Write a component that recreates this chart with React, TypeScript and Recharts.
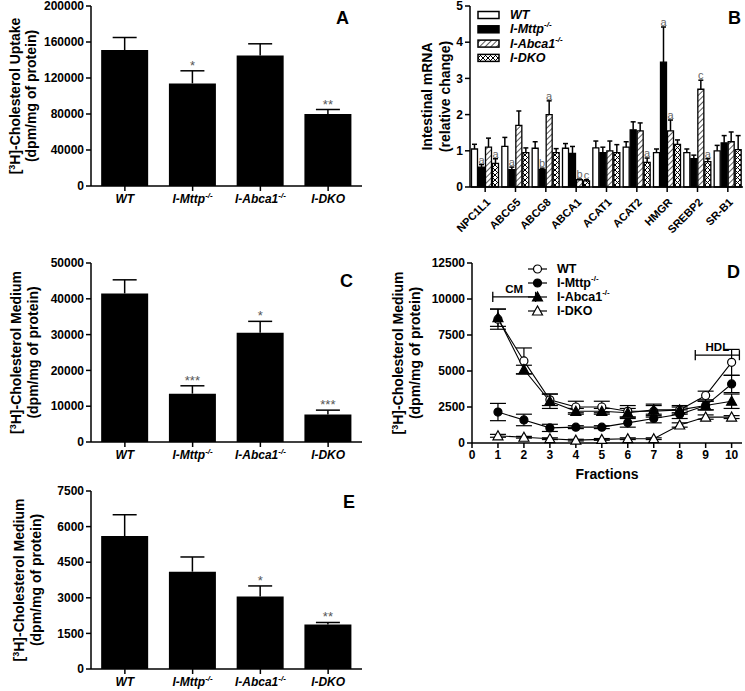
import React from "react";
import {
  BarChart,
  Bar,
  LineChart,
  Line,
  XAxis,
  YAxis,
  LabelList,
  ErrorBar,
  ReferenceLine,
  Legend,
} from "recharts";

const FONT = '"Liberation Sans", Arial, Helvetica, sans-serif';

// genotype groups (panels A, C, E and legends of B, D)
const groups = ["WT", "I-Mttp", "I-Abca1", "I-DKO"];
const groupSup = ["", "-/-", "-/-", ""];

// A: [3H]-cholesterol uptake
const uptakeMean = [151000, 114000, 145000, 80000];
const uptakeErr = [14000, 14000, 13000, 5000];
const uptakeSig = ["", "*", "", "**"];
const uptakeTicks = [0, 40000, 80000, 120000, 160000, 200000];

// C: [3H]-cholesterol in medium
const mediumMean = [41500, 13500, 30500, 7700];
const mediumErr = [3800, 2200, 3200, 1200];
const mediumSig = ["", "***", "*", "***"];
const mediumTicks = [0, 10000, 20000, 30000, 40000, 50000];

// E: [3H]-cholesterol in medium (second experiment)
const mediumEMean = [5600, 4100, 3050, 1880];
const mediumEErr = [900, 620, 450, 80];
const mediumESig = ["", "", "*", "**"];
const mediumETicks = [0, 1500, 3000, 4500, 6000, 7500];

// B: intestinal mRNA
const genes = ["NPC1L1", "ABCG5", "ABCG8", "ABCA1", "ACAT1", "ACAT2", "HMGR", "SREBP2", "SR-B1"];
const mrnaWT = [1.05, 1.12, 1.07, 1.07, 1.08, 1.1, 0.95, 0.95, 1.0];
const mrnaWTErr = [0.13, 0.25, 0.18, 0.13, 0.19, 0.15, 0.1, 0.1, 0.15];
const mrnaMttp = [0.55, 0.48, 0.48, 0.93, 0.95, 1.58, 3.45, 0.78, 1.22];
const mrnaMttpErr = [0.07, 0.07, 0.04, 0.19, 0.15, 0.22, 0.97, 0.1, 0.2];
const mrnaMttpSig = ["a", "a", "b", "", "", "", "a", "", ""];
const mrnaAbca1 = [1.1, 1.7, 2.0, 0.2, 1.0, 1.55, 1.55, 2.7, 1.25];
const mrnaAbca1Err = [0.25, 0.4, 0.38, 0.02, 0.27, 0.22, 0.3, 0.25, 0.27];
const mrnaAbca1Sig = ["", "", "a", "b", "", "", "a", "c", ""];
const mrnaDko = [0.65, 0.95, 0.95, 0.17, 0.95, 0.68, 1.18, 0.7, 1.03];
const mrnaDkoErr = [0.13, 0.13, 0.11, 0.03, 0.22, 0.12, 0.12, 0.08, 0.39];
const mrnaDkoSig = ["a", "", "", "c", "", "a", "", "a", ""];
const mrnaTicks = [0, 1, 2, 3, 4, 5];

// D: lipoprotein fractions
const fractions = [1, 2, 3, 4, 5, 6, 7, 8, 9, 10];
const fracWT = [8600, 5700, 3000, 2500, 2500, 2200, 2200, 2300, 3300, 5600];
const fracWTErr = [700, 900, 400, 400, 400, 400, 400, 300, 300, 900];
const fracMttp = [2150, 1600, 1050, 1100, 1100, 1400, 1700, 2000, 2600, 4100];
const fracMttpErr = [600, 400, 250, 100, 100, 300, 300, 300, 300, 600];
const fracAbca1 = [8700, 5100, 2900, 2200, 2200, 2100, 2300, 2300, 2600, 2900];
const fracAbca1Err = [600, 300, 500, 200, 200, 300, 400, 200, 300, 500];
const fracDko = [500, 400, 300, 200, 250, 300, 300, 1250, 1800, 1800];
const fracDkoErr = [100, 60, 60, 60, 60, 60, 60, 150, 150, 100];
const fracTicks = [0, 1, 2, 3, 4, 5, 6, 7, 8, 9, 10];
const fracYTicks = [0, 2500, 5000, 7500, 10000, 12500];
const cmRange = [0.8, 2.45];
const cmLevel = 10150;
const hdlRange = [8.6, 10.3];
const hdlLevel = 6100;
const bracketEnd = 350;

const axisLine = { stroke: "#000", strokeWidth: 1.5 };
const tickFont = { fontSize: 12, fontWeight: "bold", fill: "#000", fontFamily: FONT };

const tritium = (rest: string) => (
  <>
    [<tspan dy={-5} fontSize={9}>3</tspan>
    <tspan dy={5}>{"H]" + rest}</tspan>
  </>
);

const yTitle =
  (line1: React.ReactNode, line2: string, x1: number, x2: number) => (props: any) => {
    const vb = props.viewBox || {};
    const cy = (vb.y ?? 0) + (vb.height ?? 0) / 2;
    const common = {
      textAnchor: "middle" as const,
      fontFamily: FONT,
      fontWeight: "bold",
      fontSize: 14,
      fill: "#000",
    };
    return (
      <g>
        <text x={x1} y={cy} dy="0.35em" transform={`rotate(-90 ${x1} ${cy})`} {...common}>
          {line1}
        </text>
        <text x={x2} y={cy} dy="0.35em" transform={`rotate(-90 ${x2} ${cy})`} {...common}>
          {line2}
        </text>
      </g>
    );
  };

const whisker = (cap: number) => (props: any) => {
  const { x, y, width, height } = props;
  if (!height || isNaN(y)) return <g />;
  const cx = x + width / 2;
  return (
    <g>
      <line x1={cx} x2={cx} y1={y} y2={y + height} stroke="#000" strokeWidth={1.5} />
      <line x1={cx - cap / 2} x2={cx + cap / 2} y1={y} y2={y} stroke="#000" strokeWidth={1.5} />
    </g>
  );
};

const GroupTick = (props: any) => {
  const { x, y, payload } = props;
  const i = groups.indexOf(payload.value);
  return (
    <text
      x={x}
      y={y + 10}
      textAnchor="middle"
      fontFamily={FONT}
      fontWeight="bold"
      fontStyle="italic"
      fontSize={12}
      fill="#000"
    >
      {payload.value}
      {groupSup[i] ? (
        <tspan dy={-5} fontSize={8}>
          {groupSup[i]}
        </tspan>
      ) : null}
    </text>
  );
};

const GeneTick = (props: any) => {
  const { x, y, payload } = props;
  const tx = x + 3;
  const ty = y + 6;
  return (
    <text
      x={tx}
      y={ty}
      transform={`rotate(-45 ${tx} ${ty})`}
      textAnchor="end"
      dominantBaseline="central"
      fontFamily={FONT}
      fontWeight="bold"
      fontSize={11}
      fill="#000"
    >
      {payload.value}
    </text>
  );
};

const letterStyle = { fontFamily: FONT, fontWeight: "bold", fontSize: 18, fill: "#000" };

type GroupPanelProps = {
  top: number;
  height: number;
  marginTop: number;
  xAxisHeight: number;
  ticks: number[];
  mean: number[];
  err: number[];
  sig: string[];
  title: React.ReactNode;
  subtitle: string;
  lx1: number;
  lx2: number;
  letter: string;
  letterX: number;
  letterY: number;
};

function GroupPanel(p: GroupPanelProps) {
  const rows = groups.map((g, i) => ({ g, mean: p.mean[i], err: p.err[i], sig: p.sig[i] }));
  const max = p.ticks[p.ticks.length - 1];
  return (
    <div style={{ position: "absolute", left: 0, top: p.top }}>
      <BarChart
        width={370}
        height={p.height}
        data={rows}
        margin={{ top: p.marginTop, right: 8, left: 0, bottom: 0 }}
        barCategoryGap="15%"
      >
        <XAxis
          dataKey="g"
          height={p.xAxisHeight}
          tick={(t: any) => <GroupTick {...t} />}
          tickSize={5}
          tickLine={axisLine}
          axisLine={axisLine}
          interval={0}
        />
        <XAxis xAxisId="top" orientation="top" height={0} tick={false} tickLine={false} axisLine={axisLine} />
        <YAxis
          width={91}
          domain={[0, max]}
          ticks={p.ticks}
          interval={0}
          tickSize={5}
          tick={tickFont}
          tickLine={axisLine}
          axisLine={axisLine}
          label={{ content: yTitle(p.title, p.subtitle, p.lx1, p.lx2) }}
        />
        <YAxis yAxisId="right" orientation="right" width={0} tick={false} tickLine={false} axisLine={axisLine} />
        <Bar dataKey="mean" stackId="s" fill="#000" isAnimationActive={false} />
        <Bar dataKey="err" stackId="s" shape={whisker(24)} isAnimationActive={false}>
          <LabelList
            dataKey="sig"
            position="top"
            offset={1}
            fill="#555"
            fontSize={13}
            fontFamily={FONT}
          />
        </Bar>
        <text x={p.letterX} y={p.letterY} textAnchor="end" {...letterStyle}>
          {p.letter}
        </text>
      </BarChart>
    </div>
  );
}

const mrnaFills = ["#fff", "#000", "url(#diagHatch)", "url(#crossHatch)"];

const HatchDefs = ({ suffix }: { suffix: string }) => (
  <defs>
    <pattern
      id={"diagHatch" + suffix}
      patternUnits="userSpaceOnUse"
      width={4}
      height={4}
      patternTransform="rotate(45)"
    >
      <rect width={4} height={4} fill="#fff" />
      <line x1={0} y1={0} x2={0} y2={4} stroke="#000" strokeWidth={1.3} />
    </pattern>
    <pattern id={"crossHatch" + suffix} patternUnits="userSpaceOnUse" width={5} height={5}>
      <rect width={5} height={5} fill="#fff" />
      <path d="M0 0 L5 5 M5 0 L0 5" stroke="#000" strokeWidth={1} />
    </pattern>
  </defs>
);

const MrnaLegend = () => (
  <svg width={110} height={60} style={{ display: "block", overflow: "visible" }}>
    <HatchDefs suffix="L" />
    {groups.map((g, i) => {
      const y = 7 + i * 14.3;
      const fill = mrnaFills[i].replace(")", "L)");
      return (
        <g key={g}>
          <rect x={0} y={y - 3.5} width={21} height={7} fill={fill} stroke="#000" strokeWidth={1.5} />
          <text
            x={32}
            y={y}
            dominantBaseline="central"
            fontFamily={FONT}
            fontWeight="bold"
            fontStyle="italic"
            fontSize={12.5}
            fill="#000"
          >
            {g}
            {groupSup[i] ? (
              <tspan dy={-5} fontSize={8}>
                {groupSup[i]}
              </tspan>
            ) : null}
          </text>
        </g>
      );
    })}
  </svg>
);

function MrnaPanel() {
  const rows = genes.map((g, i) => ({
    g,
    wt: mrnaWT[i],
    wtE: mrnaWTErr[i],
    wtS: "",
    mttp: mrnaMttp[i],
    mttpE: mrnaMttpErr[i],
    mttpS: mrnaMttpSig[i],
    abca1: mrnaAbca1[i],
    abca1E: mrnaAbca1Err[i],
    abca1S: mrnaAbca1Sig[i],
    dko: mrnaDko[i],
    dkoE: mrnaDkoErr[i],
    dkoS: mrnaDkoSig[i],
  }));
  const keys = ["wt", "mttp", "abca1", "dko"];
  return (
    <div style={{ position: "absolute", left: 380, top: 0 }}>
      <BarChart
        width={365}
        height={244}
        data={rows}
        margin={{ top: 6, right: 2, left: 0, bottom: 0 }}
        barCategoryGap={1.5}
        barGap={1}
      >
        <HatchDefs suffix="" />
        <XAxis
          dataKey="g"
          height={57}
          tick={(t: any) => <GeneTick {...t} />}
          tickSize={5}
          tickLine={axisLine}
          axisLine={axisLine}
          interval={0}
        />
        <XAxis xAxisId="top" orientation="top" height={0} tick={false} tickLine={false} axisLine={axisLine} />
        <YAxis
          width={90}
          domain={[0, 5]}
          ticks={mrnaTicks}
          interval={0}
          tickSize={5}
          tick={tickFont}
          tickLine={axisLine}
          axisLine={axisLine}
          label={{ content: yTitle("Intestinal mRNA", "(relative change)", 47, 65) }}
        />
        <YAxis yAxisId="right" orientation="right" width={0} tick={false} tickLine={false} axisLine={axisLine} />
        {keys.map((k, i) => [
          <Bar
            key={k}
            dataKey={k}
            stackId={k}
            fill={mrnaFills[i]}
            stroke="#000"
            strokeWidth={1.3}
            isAnimationActive={false}
          />,
          <Bar key={k + "E"} dataKey={k + "E"} stackId={k} shape={whisker(5)} isAnimationActive={false}>
            <LabelList
              dataKey={k + "S"}
              position="top"
              offset={1}
              fill="#666"
              fontSize={11}
              fontFamily={FONT}
            />
          </Bar>,
        ])}
        <Legend
          layout="vertical"
          align="center"
          verticalAlign="middle"
          content={() => <MrnaLegend />}
          wrapperStyle={{ left: 98, top: 8, width: 120, height: 60 }}
        />
        <text x={361} y={24} textAnchor="end" {...letterStyle}>
          B
        </text>
      </BarChart>
    </div>
  );
}

const marker = (i: number, cx: number, cy: number, key?: string) => {
  const open = i === 0 || i === 3;
  const fill = open ? "#fff" : "#000";
  if (i < 2) {
    return <circle key={key} cx={cx} cy={cy} r={4} fill={fill} stroke="#000" strokeWidth={1.2} />;
  }
  return (
    <polygon
      key={key}
      points={`${cx},${cy - 5} ${cx - 5},${cy + 4} ${cx + 5},${cy + 4}`}
      fill={fill}
      stroke="#000"
      strokeWidth={1.2}
    />
  );
};

const FractionLegend = () => (
  <svg width={110} height={60} style={{ display: "block", overflow: "visible" }}>
    {groups.map((g, i) => {
      const y = 6 + i * 14;
      return (
        <g key={g}>
          <line x1={0} x2={19} y1={y} y2={y} stroke="#000" strokeWidth={1.2} />
          {marker(i, 9.5, y)}
          <text
            x={29}
            y={y}
            dominantBaseline="central"
            fontFamily={FONT}
            fontWeight="bold"
            fontSize={12.5}
            fill="#000"
          >
            {g}
            {groupSup[i] ? (
              <tspan dy={-5} fontSize={8}>
                {groupSup[i]}
              </tspan>
            ) : null}
          </text>
        </g>
      );
    })}
  </svg>
);

function FractionPanel() {
  const rows = fractions.map((f, i) => ({
    f,
    wt: fracWT[i],
    wtE: fracWTErr[i],
    mttp: fracMttp[i],
    mttpE: fracMttpErr[i],
    abca1: fracAbca1[i],
    abca1E: fracAbca1Err[i],
    dko: fracDko[i],
    dkoE: fracDkoErr[i],
  }));
  const order = [0, 3, 1, 2];
  const keys = ["wt", "mttp", "abca1", "dko"];
  const bracketLabel = (value: string) => ({
    value,
    position: "top" as const,
    offset: 4,
    fill: "#000",
    fontSize: 11.5,
    fontWeight: "bold",
    fontFamily: FONT,
  });
  return (
    <div style={{ position: "absolute", left: 380, top: 245 }}>
      <LineChart width={365} height={238} data={rows} margin={{ top: 18, right: 3, left: 0, bottom: 0 }}>
        <XAxis
          dataKey="f"
          type="number"
          domain={[0, 10.4]}
          ticks={fracTicks}
          interval={0}
          height={40}
          tickSize={5}
          tick={tickFont}
          tickLine={axisLine}
          axisLine={axisLine}
          label={{
            value: "Fractions",
            position: "insideBottom",
            offset: 4,
            fill: "#000",
            fontSize: 14,
            fontWeight: "bold",
            fontFamily: FONT,
          }}
        />
        <XAxis xAxisId="top" orientation="top" height={0} tick={false} tickLine={false} axisLine={axisLine} />
        <YAxis
          width={92}
          domain={[0, 12500]}
          ticks={fracYTicks}
          interval={0}
          tickSize={5}
          tick={tickFont}
          tickLine={axisLine}
          axisLine={axisLine}
          label={{ content: yTitle(tritium("-Cholesterol Medium"), "(dpm/mg of protein)", 18, 35) }}
        />
        <YAxis yAxisId="right" orientation="right" width={0} tick={false} tickLine={false} axisLine={axisLine} />
        <ReferenceLine
          segment={[
            { x: cmRange[0], y: cmLevel },
            { x: cmRange[1], y: cmLevel },
          ]}
          stroke="#000"
          strokeWidth={1.3}
          label={bracketLabel("CM")}
        />
        {cmRange.map((x) => (
          <ReferenceLine
            key={"cm" + x}
            segment={[
              { x, y: cmLevel - bracketEnd },
              { x, y: cmLevel + bracketEnd },
            ]}
            stroke="#000"
            strokeWidth={1.3}
          />
        ))}
        <ReferenceLine
          segment={[
            { x: hdlRange[0], y: hdlLevel },
            { x: hdlRange[1], y: hdlLevel },
          ]}
          stroke="#000"
          strokeWidth={1.3}
          label={bracketLabel("HDL")}
        />
        {hdlRange.map((x) => (
          <ReferenceLine
            key={"hdl" + x}
            segment={[
              { x, y: hdlLevel - bracketEnd },
              { x, y: hdlLevel + bracketEnd },
            ]}
            stroke="#000"
            strokeWidth={1.3}
          />
        ))}
        {order.map((i) => (
          <Line
            key={keys[i]}
            dataKey={keys[i]}
            stroke="#000"
            strokeWidth={1.1}
            isAnimationActive={false}
            dot={(d: any) => marker(i, d.cx, d.cy, `${keys[i]}-${d.index}`)}
          >
            <ErrorBar dataKey={keys[i] + "E"} direction="y" width={8} stroke="#000" strokeWidth={1.2} />
          </Line>
        ))}
        <Legend
          layout="vertical"
          align="center"
          verticalAlign="middle"
          content={() => <FractionLegend />}
          wrapperStyle={{ left: 148, top: 18, width: 120, height: 60 }}
        />
        <text x={360} y={33} textAnchor="end" {...letterStyle}>
          D
        </text>
      </LineChart>
    </div>
  );
}

export default function App() {
  return (
    <div
      style={{
        position: "fixed",
        left: 0,
        top: 0,
        width: 745,
        height: 691,
        background: "#fff",
        fontFamily: FONT,
      }}
    >
      <GroupPanel
        top={0}
        height={215}
        marginTop={6}
        xAxisHeight={29}
        ticks={uptakeTicks}
        mean={uptakeMean}
        err={uptakeErr}
        sig={uptakeSig}
        title={tritium("-Cholesterol Uptake")}
        subtitle="(dpm/mg of protein)"
        lx1={15}
        lx2={31}
        letter="A"
        letterX={349}
        letterY={24}
      />
      <MrnaPanel />
      <GroupPanel
        top={245}
        height={226}
        marginTop={18}
        xAxisHeight={29}
        ticks={mediumTicks}
        mean={mediumMean}
        err={mediumErr}
        sig={mediumSig}
        title={tritium("-Cholesterol Medium")}
        subtitle="(dpm/mg of protein)"
        lx1={16}
        lx2={33}
        letter="C"
        letterX={353}
        letterY={42}
      />
      <FractionPanel />
      <GroupPanel
        top={475}
        height={216}
        marginTop={16}
        xAxisHeight={22}
        ticks={mediumETicks}
        mean={mediumEMean}
        err={mediumEErr}
        sig={mediumESig}
        title={tritium("-Cholesterol Medium")}
        subtitle="(dpm/mg of protein)"
        lx1={19}
        lx2={36}
        letter="E"
        letterX={355}
        letterY={33}
      />
    </div>
  );
}
